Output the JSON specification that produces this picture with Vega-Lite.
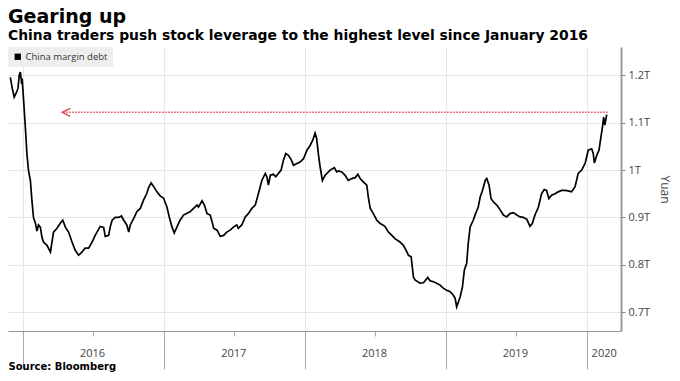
{
  "$schema": "https://vega.github.io/schema/vega-lite/v6.json",
  "width": 613,
  "height": 284,
  "autosize": "none",
  "padding": {"left": 8, "top": 47, "right": 59, "bottom": 50},
  "background": "white",
  "title": {
    "text": "Gearing up",
    "subtitle": "China traders push stock leverage to the highest level since January 2016",
    "anchor": "start",
    "frame": "group",
    "font": "DejaVu Sans",
    "fontSize": 19,
    "fontWeight": "bold",
    "color": "#000",
    "subtitleFont": "DejaVu Sans",
    "subtitleFontSize": 13.9,
    "subtitleFontWeight": "bold",
    "subtitleColor": "#000",
    "subtitlePadding": 2,
    "offset": 4
  },
  "config": {"view": {"stroke": null}},
  "layer": [
    {
      "data": {"values": [
        {"date": "2015-11-29", "value": 1.196},
        {"date": "2015-12-04", "value": 1.173},
        {"date": "2015-12-09", "value": 1.154},
        {"date": "2015-12-15", "value": 1.164},
        {"date": "2015-12-19", "value": 1.173},
        {"date": "2015-12-22", "value": 1.200},
        {"date": "2015-12-25", "value": 1.207},
        {"date": "2015-12-28", "value": 1.186},
        {"date": "2015-12-30", "value": 1.189},
        {"date": "2016-01-03", "value": 1.141},
        {"date": "2016-01-07", "value": 1.090},
        {"date": "2016-01-11", "value": 1.035},
        {"date": "2016-01-15", "value": 1.000},
        {"date": "2016-01-20", "value": 0.978},
        {"date": "2016-01-24", "value": 0.936},
        {"date": "2016-01-28", "value": 0.900},
        {"date": "2016-02-02", "value": 0.888},
        {"date": "2016-02-06", "value": 0.871},
        {"date": "2016-02-10", "value": 0.884},
        {"date": "2016-02-15", "value": 0.879},
        {"date": "2016-02-19", "value": 0.858},
        {"date": "2016-02-23", "value": 0.848},
        {"date": "2016-03-03", "value": 0.841},
        {"date": "2016-03-12", "value": 0.827},
        {"date": "2016-03-16", "value": 0.848},
        {"date": "2016-03-20", "value": 0.869},
        {"date": "2016-03-29", "value": 0.877},
        {"date": "2016-04-07", "value": 0.888},
        {"date": "2016-04-13", "value": 0.894},
        {"date": "2016-04-20", "value": 0.879},
        {"date": "2016-04-28", "value": 0.869},
        {"date": "2016-05-07", "value": 0.848},
        {"date": "2016-05-15", "value": 0.831},
        {"date": "2016-05-24", "value": 0.820},
        {"date": "2016-06-02", "value": 0.827},
        {"date": "2016-06-10", "value": 0.835},
        {"date": "2016-06-19", "value": 0.835},
        {"date": "2016-06-28", "value": 0.848},
        {"date": "2016-07-06", "value": 0.862},
        {"date": "2016-07-19", "value": 0.881},
        {"date": "2016-07-28", "value": 0.879},
        {"date": "2016-08-01", "value": 0.860},
        {"date": "2016-08-10", "value": 0.862},
        {"date": "2016-08-14", "value": 0.880},
        {"date": "2016-08-19", "value": 0.894},
        {"date": "2016-08-27", "value": 0.900},
        {"date": "2016-09-05", "value": 0.900},
        {"date": "2016-09-12", "value": 0.903},
        {"date": "2016-09-18", "value": 0.894},
        {"date": "2016-09-26", "value": 0.884},
        {"date": "2016-10-01", "value": 0.869},
        {"date": "2016-10-05", "value": 0.884},
        {"date": "2016-10-14", "value": 0.898},
        {"date": "2016-10-22", "value": 0.912},
        {"date": "2016-10-31", "value": 0.919},
        {"date": "2016-11-08", "value": 0.936},
        {"date": "2016-11-17", "value": 0.951},
        {"date": "2016-11-21", "value": 0.962},
        {"date": "2016-11-28", "value": 0.973},
        {"date": "2016-12-04", "value": 0.966},
        {"date": "2016-12-13", "value": 0.954},
        {"date": "2016-12-22", "value": 0.945},
        {"date": "2016-12-30", "value": 0.941},
        {"date": "2017-01-08", "value": 0.922},
        {"date": "2017-01-14", "value": 0.901},
        {"date": "2017-01-21", "value": 0.880},
        {"date": "2017-01-27", "value": 0.867},
        {"date": "2017-02-03", "value": 0.880},
        {"date": "2017-02-11", "value": 0.894},
        {"date": "2017-02-20", "value": 0.905},
        {"date": "2017-03-01", "value": 0.909},
        {"date": "2017-03-09", "value": 0.912},
        {"date": "2017-03-18", "value": 0.919},
        {"date": "2017-03-27", "value": 0.926},
        {"date": "2017-03-31", "value": 0.922},
        {"date": "2017-04-09", "value": 0.935},
        {"date": "2017-04-15", "value": 0.926},
        {"date": "2017-04-22", "value": 0.908},
        {"date": "2017-04-30", "value": 0.905},
        {"date": "2017-05-05", "value": 0.891},
        {"date": "2017-05-09", "value": 0.877},
        {"date": "2017-05-18", "value": 0.873},
        {"date": "2017-05-26", "value": 0.860},
        {"date": "2017-06-04", "value": 0.862},
        {"date": "2017-06-12", "value": 0.869},
        {"date": "2017-06-21", "value": 0.873},
        {"date": "2017-06-30", "value": 0.880},
        {"date": "2017-07-08", "value": 0.884},
        {"date": "2017-07-12", "value": 0.877},
        {"date": "2017-07-21", "value": 0.884},
        {"date": "2017-07-30", "value": 0.901},
        {"date": "2017-08-07", "value": 0.908},
        {"date": "2017-08-16", "value": 0.919},
        {"date": "2017-08-25", "value": 0.926},
        {"date": "2017-09-02", "value": 0.950},
        {"date": "2017-09-11", "value": 0.978},
        {"date": "2017-09-20", "value": 0.993},
        {"date": "2017-09-24", "value": 0.986},
        {"date": "2017-09-28", "value": 0.968},
        {"date": "2017-10-03", "value": 0.989},
        {"date": "2017-10-11", "value": 0.991},
        {"date": "2017-10-17", "value": 0.986},
        {"date": "2017-10-24", "value": 0.993},
        {"date": "2017-10-31", "value": 1.000},
        {"date": "2017-11-06", "value": 1.021},
        {"date": "2017-11-12", "value": 1.035},
        {"date": "2017-11-19", "value": 1.031},
        {"date": "2017-11-26", "value": 1.022},
        {"date": "2017-12-02", "value": 1.010},
        {"date": "2017-12-11", "value": 1.014},
        {"date": "2017-12-19", "value": 1.017},
        {"date": "2017-12-28", "value": 1.024},
        {"date": "2018-01-06", "value": 1.042},
        {"date": "2018-01-14", "value": 1.052},
        {"date": "2018-01-21", "value": 1.063},
        {"date": "2018-01-27", "value": 1.078},
        {"date": "2018-01-31", "value": 1.067},
        {"date": "2018-02-05", "value": 1.031},
        {"date": "2018-02-09", "value": 1.007},
        {"date": "2018-02-15", "value": 0.978},
        {"date": "2018-02-22", "value": 0.989},
        {"date": "2018-03-07", "value": 1.000},
        {"date": "2018-03-18", "value": 1.005},
        {"date": "2018-03-24", "value": 0.996},
        {"date": "2018-03-29", "value": 0.998},
        {"date": "2018-04-06", "value": 0.996},
        {"date": "2018-04-15", "value": 0.989},
        {"date": "2018-04-23", "value": 0.978},
        {"date": "2018-05-02", "value": 0.982},
        {"date": "2018-05-11", "value": 0.984},
        {"date": "2018-05-18", "value": 0.991},
        {"date": "2018-05-24", "value": 0.982},
        {"date": "2018-06-01", "value": 0.975},
        {"date": "2018-06-10", "value": 0.968},
        {"date": "2018-06-14", "value": 0.943},
        {"date": "2018-06-19", "value": 0.919},
        {"date": "2018-06-27", "value": 0.908},
        {"date": "2018-07-06", "value": 0.894},
        {"date": "2018-07-15", "value": 0.887},
        {"date": "2018-07-27", "value": 0.881},
        {"date": "2018-08-05", "value": 0.869},
        {"date": "2018-08-14", "value": 0.862},
        {"date": "2018-08-22", "value": 0.855},
        {"date": "2018-09-04", "value": 0.848},
        {"date": "2018-09-13", "value": 0.841},
        {"date": "2018-09-22", "value": 0.827},
        {"date": "2018-09-26", "value": 0.820},
        {"date": "2018-10-03", "value": 0.817},
        {"date": "2018-10-09", "value": 0.774},
        {"date": "2018-10-13", "value": 0.768},
        {"date": "2018-10-26", "value": 0.761},
        {"date": "2018-11-04", "value": 0.762},
        {"date": "2018-11-15", "value": 0.773},
        {"date": "2018-11-21", "value": 0.766},
        {"date": "2018-11-30", "value": 0.764},
        {"date": "2018-12-08", "value": 0.761},
        {"date": "2018-12-17", "value": 0.757},
        {"date": "2018-12-26", "value": 0.750},
        {"date": "2019-01-03", "value": 0.746},
        {"date": "2019-01-12", "value": 0.743},
        {"date": "2019-01-20", "value": 0.736},
        {"date": "2019-01-25", "value": 0.729},
        {"date": "2019-01-29", "value": 0.711},
        {"date": "2019-02-07", "value": 0.732},
        {"date": "2019-02-13", "value": 0.753},
        {"date": "2019-02-18", "value": 0.789},
        {"date": "2019-02-24", "value": 0.803},
        {"date": "2019-02-28", "value": 0.845},
        {"date": "2019-03-05", "value": 0.880},
        {"date": "2019-03-13", "value": 0.894},
        {"date": "2019-03-19", "value": 0.908},
        {"date": "2019-03-26", "value": 0.922},
        {"date": "2019-03-31", "value": 0.943},
        {"date": "2019-04-06", "value": 0.957},
        {"date": "2019-04-13", "value": 0.978},
        {"date": "2019-04-17", "value": 0.982},
        {"date": "2019-04-23", "value": 0.968},
        {"date": "2019-04-28", "value": 0.940},
        {"date": "2019-05-04", "value": 0.933},
        {"date": "2019-05-13", "value": 0.926},
        {"date": "2019-05-21", "value": 0.917},
        {"date": "2019-05-30", "value": 0.905},
        {"date": "2019-06-08", "value": 0.901},
        {"date": "2019-06-16", "value": 0.908},
        {"date": "2019-06-25", "value": 0.910},
        {"date": "2019-07-04", "value": 0.905},
        {"date": "2019-07-12", "value": 0.901},
        {"date": "2019-07-21", "value": 0.900},
        {"date": "2019-07-30", "value": 0.896},
        {"date": "2019-08-07", "value": 0.881},
        {"date": "2019-08-13", "value": 0.887},
        {"date": "2019-08-20", "value": 0.905},
        {"date": "2019-08-29", "value": 0.922},
        {"date": "2019-09-06", "value": 0.950},
        {"date": "2019-09-13", "value": 0.959},
        {"date": "2019-09-19", "value": 0.957},
        {"date": "2019-09-25", "value": 0.940},
        {"date": "2019-10-02", "value": 0.947},
        {"date": "2019-10-11", "value": 0.950},
        {"date": "2019-10-19", "value": 0.954},
        {"date": "2019-10-28", "value": 0.957},
        {"date": "2019-11-06", "value": 0.957},
        {"date": "2019-11-14", "value": 0.956},
        {"date": "2019-11-23", "value": 0.954},
        {"date": "2019-12-02", "value": 0.965},
        {"date": "2019-12-10", "value": 0.993},
        {"date": "2019-12-19", "value": 1.000},
        {"date": "2019-12-28", "value": 1.014},
        {"date": "2020-01-05", "value": 1.042},
        {"date": "2020-01-14", "value": 1.045},
        {"date": "2020-01-18", "value": 1.035},
        {"date": "2020-01-21", "value": 1.015},
        {"date": "2020-01-27", "value": 1.031},
        {"date": "2020-02-02", "value": 1.042},
        {"date": "2020-02-07", "value": 1.070},
        {"date": "2020-02-11", "value": 1.091},
        {"date": "2020-02-14", "value": 1.112},
        {"date": "2020-02-17", "value": 1.095},
        {"date": "2020-02-22", "value": 1.117}
      ]},
      "mark": {"type": "line", "strokeWidth": 1.7, "interpolate": "linear"},
      "encoding": {
        "x": {
          "field": "date",
          "type": "temporal",
          "scale": {"type": "utc", "domain": [{"year": 2015, "month": 11, "date": 23, "utc": true}, {"year": 2020, "month": 3, "date": 30, "utc": true}]},
          "axis": {
            "values": [
              {"year": 2016, "month": 1, "date": 1, "utc": true},
              {"year": 2016, "month": 4, "date": 1, "utc": true},
              {"year": 2016, "month": 7, "date": 1, "utc": true},
              {"year": 2016, "month": 10, "date": 1, "utc": true},
              {"year": 2017, "month": 1, "date": 1, "utc": true},
              {"year": 2017, "month": 4, "date": 1, "utc": true},
              {"year": 2017, "month": 7, "date": 1, "utc": true},
              {"year": 2017, "month": 10, "date": 1, "utc": true},
              {"year": 2018, "month": 1, "date": 1, "utc": true},
              {"year": 2018, "month": 4, "date": 1, "utc": true},
              {"year": 2018, "month": 7, "date": 1, "utc": true},
              {"year": 2018, "month": 10, "date": 1, "utc": true},
              {"year": 2019, "month": 1, "date": 1, "utc": true},
              {"year": 2019, "month": 4, "date": 1, "utc": true},
              {"year": 2019, "month": 7, "date": 1, "utc": true},
              {"year": 2019, "month": 10, "date": 1, "utc": true},
              {"year": 2020, "month": 1, "date": 1, "utc": true}
            ],
            "labelExpr": "utcmonth(datum.value) == 0 ? utcFormat(datum.value, '%Y') : ''",
            "labelOffset": {"condition": {"test": "utcyear(datum.value) == 2020", "value": 17}, "value": 69},
            "labelOverlap": false,
            "labelFlush": false,
            "labelBound": false,
            "labelPadding": -22,
            "labelFont": "Open Sans",
            "labelFontSize": 11,
            "labelColor": "#444",
            "tickSize": {"condition": {"test": "utcmonth(datum.value) == 0", "value": 38}, "value": 5},
            "tickColor": "#aaa",
            "domainColor": "#999",
            "grid": true,
            "gridColor": "#e6e6e6",
            "gridOpacity": {"condition": {"test": "utcmonth(datum.value) != 0", "value": 0}, "value": 1},
            "title": "Source: Bloomberg",
            "titleAnchor": "start",
            "titleAlign": "left",
            "titleFont": "DejaVu Sans",
            "titleFontSize": 10,
            "titleFontWeight": "bold",
            "titleColor": "#000",
            "titleBaseline": "middle",
            "titleY": 35
          }
        },
        "y": {
          "field": "value",
          "type": "quantitative",
          "scale": {"domain": [0.66, 1.26], "nice": false, "zero": false},
          "axis": {
            "orient": "right",
            "values": [0.7, 0.75, 0.8, 0.85, 0.9, 0.95, 1.0, 1.05, 1.1, 1.15, 1.2, 1.25],
            "labelExpr": "round(datum.value * 100) % 10 == 0 ? format(datum.value, '.1~f') + 'T' : ''",
            "tickSize": 4,
            "tickColor": "#888",
            "domainColor": "#999",
            "domainWidth": 2,
            "grid": true,
            "gridColor": "#e6e6e6",
            "gridOpacity": {"condition": {"test": "round(datum.value * 100) % 10 != 0", "value": 0}, "value": 1},
            "labelFont": "Open Sans",
            "labelFontSize": 11,
            "labelColor": "#444",
            "labelPadding": 3,
            "title": "Yuan",
            "titleFont": "Open Sans",
            "titleFontSize": 12,
            "titleFontWeight": "normal",
            "titleColor": "#444",
            "titlePadding": 8
          }
        },
        "color": {
          "datum": "China margin debt",
          "type": "nominal",
          "scale": {"range": ["#000000"]},
          "legend": {
            "orient": "top-left",
            "offset": 0,
            "title": null,
            "fillColor": "#eeeeee",
            "padding": 5,
            "symbolType": "square",
            "symbolSize": 40,
            "symbolFillColor": "#000000",
            "symbolStrokeWidth": 0,
            "labelFont": "Open Sans",
            "labelFontSize": 9.5,
            "labelColor": "#333",
            "labelOffset": 3
          }
        }
      }
    },
    {
      "data": {"values": [{"start": "2016-04-14", "end": "2020-02-24", "level": 1.122}]},
      "mark": {"type": "rule", "color": "#e8455a", "strokeWidth": 1.5, "strokeDash": [1.5, 1.5]},
      "encoding": {
        "x": {"field": "start", "type": "temporal"},
        "x2": {"field": "end"},
        "y": {"field": "level", "type": "quantitative"}
      }
    },
    {
      "data": {"values": [{"date": "2016-04-22", "level": 1.122}]},
      "mark": {"type": "point", "shape": "M1,-1L-1,0L1,1", "filled": false, "color": "#e8455a", "strokeWidth": 1.5, "size": 64, "opacity": 1},
      "encoding": {
        "x": {"field": "date", "type": "temporal"},
        "y": {"field": "level", "type": "quantitative"}
      }
    }
  ]
}
